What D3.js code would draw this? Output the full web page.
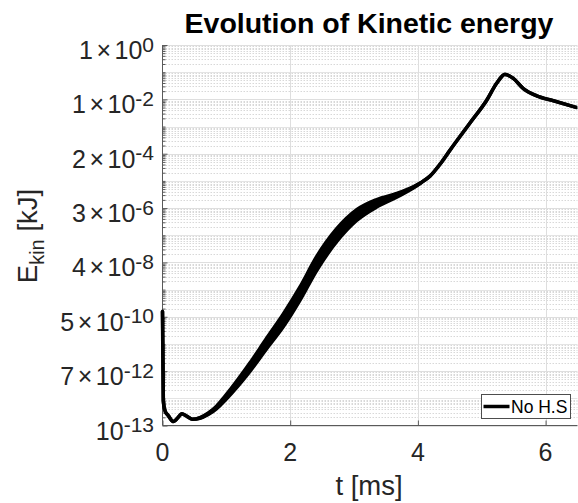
<!DOCTYPE html>
<html>
<head>
<meta charset="utf-8">
<script src="https://cdn.jsdelivr.net/npm/d3@7"></script>
<style>
  html, body { margin: 0; padding: 0; background: #fff; }
  svg { display: block; font-family: "Liberation Sans", Arial, Helvetica, sans-serif; }
</style>
</head>
<body>
<svg id="chart" width="578" height="503"></svg>
<script>
// Simulation time [ms]
const timeMs = [0, 0.0125, 0.039, 0.091, 0.169, 0.247, 0.301, 0.379, 0.467, 0.587,
  0.717, 0.849, 0.979, 1.37, 1.632, 1.892, 2.153, 2.415, 2.728, 3.041,
  3.355, 3.668, 3.928, 4.05, 4.19, 4.35, 4.503, 4.816, 5.078, 5.234, 5.364, 5.494,
  5.651, 5.861, 6.121, 6.487];

// Kinetic energy [kJ] (mean trace)
const ekin = [1.6e-10, 8.3e-14, 3.5e-14, 2.3e-14, 1.4e-14, 2.0e-14, 2.7e-14, 2.2e-14, 1.7e-14, 1.9e-14,
  2.7e-14, 4.7e-14, 1.0e-13, 1.4e-12, 1.05e-11, 7.4e-11, 7.1e-10, 9.1e-9, 1.0e-7, 5.5e-7,
  1.5e-6, 2.95e-6, 5.75e-6, 8.6e-6, 1.5e-5, 4.2e-5, 1.35e-4, 1.35e-3, 9.3e-3, 3.9e-2, 8.3e-2, 5.9e-2,
  2.5e-2, 1.35e-2, 8.9e-3, 5.0e-3];

// Half-width of the fast oscillation around the mean trace [decades]
const ekinSpread = [0, 0, 0, 0, 0, 0, 0, 0, 0, 0.015,
  0.03, 0.05, 0.08, 0.16, 0.2, 0.24, 0.25, 0.26, 0.24, 0.2,
  0.14, 0.07, 0.025, 0.005, 0, 0, 0, 0, 0, 0, 0, 0,
  0, 0, 0, 0];

// Axis ticks
const xTicks = [0, 2, 4, 6];
const yTicks = [1e0, 1e-2, 1e-4, 1e-6, 1e-8, 1e-10, 1e-12, 1e-14];
const yTickMantissa = ["1", "1", "2", "3", "4", "5", "7", ""];
const yTickExponent = ["0", "-2", "-4", "-6", "-8", "-10", "-12", "-13"];

const seriesName = "No H.S";

const svg = d3.select("#chart");
const plot = { left: 162.5, right: 577.5, top: 45, bottom: 425.5 };

const x = d3.scaleLinear().domain([0, 6.5]).range([plot.left, plot.right]);
const y = d3.scaleLog().domain([1e-14, 1e0]).range([plot.bottom, plot.top]);

const data = timeMs.map((t, i) => ({ t, e: ekin[i], s: ekinSpread[i] }));

// Grid
const grid = svg.append("g");
const minorVals = [];
for (let k = -14; k < 0; k++) for (let m = 2; m <= 9; m++) minorVals.push(m * Math.pow(10, k));
grid.selectAll("line.minor").data(minorVals).join("line")
  .attr("x1", plot.left).attr("x2", plot.right)
  .attr("y1", d => Math.round(y(d)) + 0.5).attr("y2", d => Math.round(y(d)) + 0.5)
  .attr("stroke", "#d8d8d8").attr("stroke-width", 1).attr("stroke-dasharray", "1.5,1.5");
const majorY = d3.range(0, 15).map(k => Math.pow(10, -k));
grid.selectAll("line.majy").data(majorY).join("line")
  .attr("x1", plot.left).attr("x2", plot.right)
  .attr("y1", d => Math.round(y(d)) + 0.5).attr("y2", d => Math.round(y(d)) + 0.5)
  .attr("stroke", d => yTicks.includes(d) ? "#dedede" : "#e4e4e4").attr("stroke-width", 1);
grid.selectAll("line.majx").data(xTicks.slice(1)).join("line")
  .attr("x1", d => Math.round(x(d)) + 0.5).attr("x2", d => Math.round(x(d)) + 0.5)
  .attr("y1", plot.top).attr("y2", plot.bottom)
  .attr("stroke", "#dedede").attr("stroke-width", 1);

// Axes
const axisColor = "#5a5a5a";
const xAxis = svg.append("g").attr("transform", `translate(0,${plot.bottom})`)
  .call(d3.axisBottom(x).tickValues(xTicks).tickSize(-5).tickFormat(""));
xAxis.select(".domain").attr("stroke", axisColor).attr("d", `M${plot.left},0H${plot.right}`);
xAxis.selectAll(".tick line").attr("stroke", axisColor);

const yAxis = svg.append("g").attr("transform", `translate(${plot.left},0)`)
  .call(d3.axisLeft(y).tickValues(minorVals.concat(majorY)).tickSize(-3).tickFormat(""));
yAxis.select(".domain").attr("stroke", axisColor).attr("d", `M0,${plot.top}V${plot.bottom}`);
yAxis.selectAll(".tick line").attr("stroke", axisColor)
  .attr("x2", d => yTicks.includes(d) ? 5 : 3);

// X tick labels
svg.append("g").selectAll("text").data(xTicks).join("text")
  .attr("x", d => x(d)).attr("y", plot.bottom + 35.5)
  .attr("text-anchor", "middle").attr("font-size", 25).attr("fill", "#262626")
  .text(d => d);

// Y tick labels (mantissa x 10^exponent)
const yl = svg.append("g").selectAll("text").data(yTicks).join("text")
  .attr("x", 154).attr("y", d => y(d) + 14)
  .attr("text-anchor", "end").attr("font-size", 25).attr("fill", "#262626");
yl.each(function (d, i) {
  const t = d3.select(this);
  if (yTickMantissa[i]) {
    t.append("tspan").text(yTickMantissa[i]);
    t.append("tspan").attr("dx", 3.5).text("\u00d7");
    t.append("tspan").attr("dx", 3.5).text("10");
  } else {
    t.append("tspan").text("10");
  }
  t.append("tspan").attr("font-size", 21).attr("dy", -7.5).text(yTickExponent[i]);
});

// Curve: oscillation band plus mean line
svg.append("clipPath").attr("id", "plotclip").append("rect")
  .attr("x", plot.left - 3).attr("y", plot.top - 5)
  .attr("width", plot.right - plot.left + 3).attr("height", plot.bottom - plot.top + 5);

const band = d3.area()
  .x(d => x(d.t))
  .y0(d => y(d.e * Math.pow(10, -d.s)))
  .y1(d => y(d.e * Math.pow(10, d.s)))
  .curve(d3.curveMonotoneX);
const line = d3.line().x(d => x(d.t)).y(d => y(d.e)).curve(d3.curveMonotoneX);

const curve = svg.append("g").attr("clip-path", "url(#plotclip)");
curve.append("path").datum(data).attr("d", band)
  .attr("fill", "#000").attr("stroke", "#000").attr("stroke-width", 3.4).attr("stroke-linejoin", "round");
curve.append("path").datum(data).attr("d", line)
  .attr("fill", "none").attr("stroke", "#000").attr("stroke-width", 3.6).attr("stroke-linejoin", "round");

// Legend
const lg = svg.append("g");
lg.append("rect").attr("x", 481.5).attr("y", 394.5).attr("width", 89).attr("height", 24)
  .attr("fill", "#fff").attr("stroke", "#4d4d4d").attr("stroke-width", 1);
lg.append("line").attr("x1", 483.5).attr("x2", 509.5).attr("y1", 406.5).attr("y2", 406.5)
  .attr("stroke", "#000").attr("stroke-width", 3.5);
lg.append("text").attr("x", 511).attr("y", 413).attr("font-size", 17.5).attr("fill", "#000")
  .text(seriesName);

// Title and axis labels
svg.append("text").attr("x", 369).attr("y", 33).attr("text-anchor", "middle")
  .attr("font-size", 28.5).attr("font-weight", "bold").attr("fill", "#000")
  .text("Evolution of Kinetic energy");

svg.append("text").attr("x", 369).attr("y", 495).attr("text-anchor", "middle")
  .attr("font-size", 27.5).attr("fill", "#262626").text("t [ms]");

const yt = svg.append("text").attr("transform", "translate(37,236) rotate(-90)")
  .attr("text-anchor", "middle").attr("font-size", 27.5).attr("fill", "#262626");
yt.append("tspan").text("E");
yt.append("tspan").attr("font-size", 20).attr("dy", 7).text("kin");
yt.append("tspan").attr("dy", -7).text(" [kJ]");
</script>
</body>
</html>
